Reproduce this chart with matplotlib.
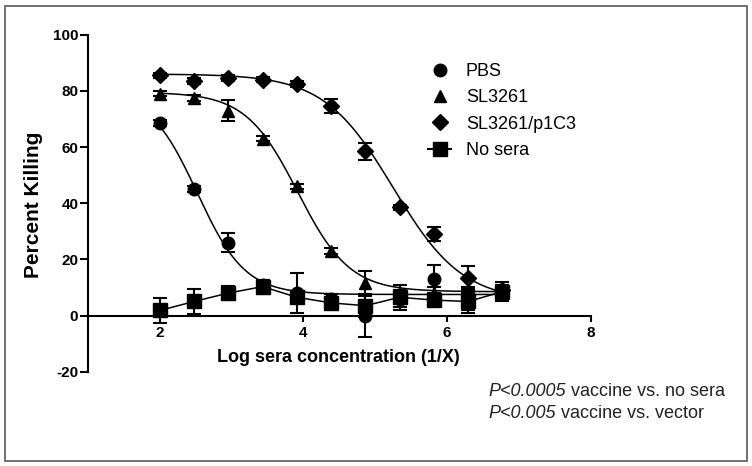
import numpy as np
import matplotlib
matplotlib.use("Agg")
import matplotlib.pyplot as plt
from matplotlib.lines import Line2D
from matplotlib.patches import Rectangle

plt.rcParams["font.family"] = ["Liberation Sans", "DejaVu Sans"]
plt.rcParams["axes.unicode_minus"] = False

# ---- data ----
log_conc = [2.0, 2.477, 2.954, 3.431, 3.908, 4.386, 4.863, 5.340, 5.817, 6.294, 6.771]

pbs_mean = [68.5, 45.0, 26.0, 11.0, 8.0, 6.0, 0.0, 6.0, 13.0, 7.0, 8.0]
pbs_err = [1.0, 1.0, 3.3, 1.5, 7.0, 1.5, 7.5, 3.0, 5.0, 3.0, 3.0]

sl_mean = [79.0, 77.5, 73.0, 63.0, 46.0, 23.0, 11.5, 7.0, 8.0, 5.0, 9.0]
sl_err = [1.0, 1.0, 3.7, 1.0, 1.0, 1.0, 4.5, 2.0, 2.0, 3.0, 2.0]

p1c3_mean = [85.5, 83.5, 84.5, 84.0, 82.5, 74.5, 58.5, 38.5, 29.0, 13.5, 9.0]
p1c3_err = [1.0, 1.0, 1.0, 1.0, 1.0, 2.5, 3.0, 1.0, 2.5, 4.0, 3.0]

nosera_mean = [1.8, 5.0, 8.0, 10.3, 6.5, 4.5, 3.5, 6.5, 5.5, 5.0, 8.5]
nosera_err = [4.3, 4.4, 2.5, 2.5, 2.0, 1.5, 4.0, 4.5, 2.0, 4.0, 2.0]

# sigmoidal dose-response fits: top, bottom, logEC50, hill slope
pbs_fit = [80.0, 7.5, 2.52, 1.3]
sl_fit = [79.5, 8.5, 3.92, 1.2]
p1c3_fit = [86.0, 5.0, 5.25, 0.9]


def fit_curve(x, top, bottom, ec50, hill):
    return bottom + (top - bottom) / (1 + 10 ** ((x - ec50) * hill))


fig = plt.figure(figsize=(7.52, 4.66), dpi=100)
fig.patches.append(Rectangle((5 / 752, 5 / 466), 742 / 752, 455 / 466, transform=fig.transFigure,
                             fill=False, edgecolor="#666666", lw=1.3))
ax = fig.add_axes([88 / 752, 1 - 371.7 / 466, 502.7 / 752, 337 / 466])

xs = np.linspace(log_conc[0], log_conc[-1], 200)
ebkw = dict(color="black", ecolor="black", elinewidth=1.5, capsize=4.7, capthick=1.5, ls="none")
for mean, err, fit, mk, ms in [(pbs_mean, pbs_err, pbs_fit, "o", 9),
                               (sl_mean, sl_err, sl_fit, "^", 9),
                               (p1c3_mean, p1c3_err, p1c3_fit, "D", 8)]:
    ax.plot(xs, fit_curve(xs, *fit), color="black", lw=1.1, zorder=2)
    ax.errorbar(log_conc, mean, yerr=err, fmt=mk, ms=ms, zorder=3, **ebkw)
ax.errorbar(log_conc, nosera_mean, yerr=nosera_err, fmt="s-", ms=9.5, lw=1.1, color="black",
            ecolor="black", elinewidth=1.5, capsize=4.7, capthick=1.5, zorder=4)

ax.set_xlim(1, 8); ax.set_ylim(-20, 100)
ax.set_xticks([2, 4, 6, 8]); ax.set_yticks([-20, 0, 20, 40, 60, 80, 100])
ax.spines["bottom"].set_position(("data", 0))
for s in ["top", "right"]:
    ax.spines[s].set_visible(False)
for s in ["left", "bottom"]:
    ax.spines[s].set_linewidth(1.5)
ax.tick_params(axis="y", length=6, width=1.5, pad=1, labelsize=11)
ax.tick_params(axis="x", length=4.5, width=1.5, pad=3, labelsize=11)
for lab in ax.get_xticklabels() + ax.get_yticklabels():
    lab.set_fontweight("bold")
ax.patch.set_alpha(0)

fig.text(34 / 752, 1 - 205 / 466, "Percent Killing", rotation=90, ha="center", va="center",
         fontsize=15, fontweight="bold")
fig.text(338 / 752, 1 - 358 / 466, "Log sera concentration (1/X)", ha="center", va="center",
         fontsize=13, fontweight="bold")

# legend
handles = [Line2D([], [], marker="o", ls="none", color="black", ms=9),
           Line2D([], [], marker="^", ls="none", color="black", ms=9),
           Line2D([], [], marker="D", ls="none", color="black", ms=8),
           Line2D([], [], marker="s", ls="-", lw=1.5, color="black", ms=9.5)]
ax.legend(handles, ["PBS", "SL3261", "SL3261/p1C3", "No sera"], loc="upper left",
          bbox_to_anchor=(428 / 752, 1 - 63 / 466), bbox_transform=fig.transFigure,
          frameon=False, fontsize=13, handlelength=1.3, handletextpad=0.8,
          labelspacing=0.52, borderpad=0, borderaxespad=0)

# p-value notes
for y, pval, rest in [(392, "P<0.0005", " vaccine vs. no sera"), (413, "P<0.005", " vaccine vs. vector")]:
    t1 = fig.text(488 / 752, 1 - y / 466, pval, fontsize=13, style="italic", color="#222222", va="center")
    ax.annotate(rest, xy=(1, 0), xycoords=t1, va="bottom", ha="left", fontsize=13, color="#222222",
                annotation_clip=False)

fig.savefig("out.png", dpi=100)
